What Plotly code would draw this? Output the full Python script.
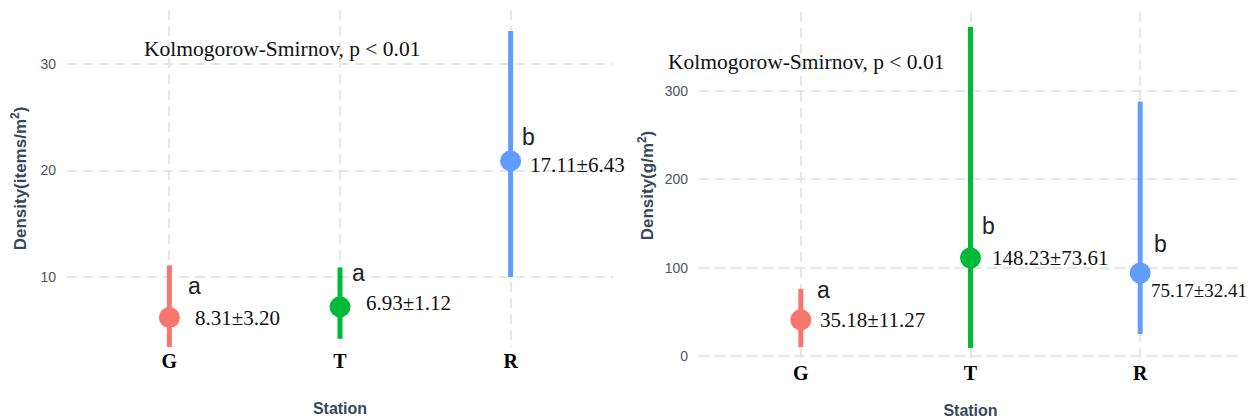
import plotly.graph_objects as go

# ---------------- data ----------------
stations = ["G", "T", "R"]
colors = ["#F8766D", "#00BA38", "#619CFF"]

abund_mean = [6.2, 7.2, 20.9]
abund_low = [3.4, 4.2, 10.0]
abund_high = [11.1, 10.9, 33.1]
abund_text = ["8.31±3.20", "6.93±1.12", "17.11±6.43"]
abund_letters = ["a", "a", "b"]

bio_mean = [41, 111, 94]
bio_low = [10, 9, 25]
bio_high = [76, 373, 288]
bio_text = ["35.18±11.27", "148.23±73.61", "75.17±32.41"]
bio_letters = ["a", "b", "b"]

ks_label = "Kolmogorow-Smirnov, p < 0.01"

# ---------------- styles ----------------
OFF = 8                      # page body margin
W, H = 1255 - OFF, 419 - OFF
GRID = "#E6E6E6"
TICKC = "#4D5566"
TITLEC = "#34495E"
SERIF = "Liberation Serif, Times New Roman, serif"
SANS = "Liberation Sans, Arial, sans-serif"


def px(x):
    return (x - OFF) / W


def py(y):
    return 1 - (y - OFF) / H


fig = go.Figure()


def add_panel(xa, ya, mean, low, high):
    for i, s in enumerate(stations):
        fig.add_trace(go.Scatter(
            x=[s], y=[mean[i]], mode="markers",
            marker=dict(color=colors[i], size=21),
            error_y=dict(type="data", symmetric=False,
                         array=[high[i] - mean[i]],
                         arrayminus=[mean[i] - low[i]],
                         color=colors[i], thickness=5, width=0),
            xaxis=xa, yaxis=ya, showlegend=False, cliponaxis=False))


add_panel("x", "y", abund_mean, abund_low, abund_high)
add_panel("x2", "y2", bio_mean, bio_low, bio_high)

# label offsets (pixels) : (letter dx, letter dy, text dx, text dy, text size)
left_style = [(17, 32, 24, 0, 21), (10, 34, 24, 4, 21), (9, 24, 17, -4, 21)]
right_style = [(14, 30, 17, 0, 21), (10, 32, 19, 0, 21), (12, 29, 9, -17, 19)]


def add_labels(xr, yr, mean, letters, texts, style):
    for i, s in enumerate(stations):
        ldx, ldy, tdx, tdy, tsz = style[i]
        fig.add_annotation(x=s, y=mean[i], xref=xr, yref=yr, text=letters[i],
                           showarrow=False, xanchor="left", yanchor="middle",
                           xshift=ldx, yshift=ldy,
                           font=dict(family=SANS, size=23, color="#222222"))
        fig.add_annotation(x=s, y=mean[i], xref=xr, yref=yr, text=texts[i],
                           showarrow=False, xanchor="left", yanchor="middle",
                           xshift=tdx, yshift=tdy,
                           font=dict(family=SERIF, size=tsz, color="#111111"))


add_labels("x", "y", abund_mean, abund_letters, abund_text, left_style)
add_labels("x2", "y2", bio_mean, bio_letters, bio_text, right_style)

fig.add_annotation(x=px(282), y=py(49), xref="paper", yref="paper", text=ks_label,
                   showarrow=False, xanchor="center", yanchor="middle",
                   font=dict(family=SERIF, size=21.5, color="#111111"))
fig.add_annotation(x=px(806), y=py(62), xref="paper", yref="paper", text=ks_label,
                   showarrow=False, xanchor="center", yanchor="middle",
                   font=dict(family=SERIF, size=21.5, color="#111111"))

xcommon = dict(type="category", range=[-0.6, 2.6], showgrid=True, gridcolor=GRID,
               griddash="10px,6px", gridwidth=1.5, zeroline=False, showline=False,
               ticks="", automargin=False,
               tickfont=dict(family=SERIF, size=20, color="#000000", weight="bold"))
ycommon = dict(showgrid=True, gridcolor=GRID, griddash="10px,6px", gridwidth=1.5,
               zeroline=False, showline=False, ticks="", automargin=False,
               ticklabelstandoff=10,
               tickfont=dict(family=SANS, size=14, color=TICKC))

fig.update_layout(
    width=W, height=H,
    margin=dict(l=0, r=0, t=0, b=0),
    paper_bgcolor="white", plot_bgcolor="white",
    showlegend=False,
    xaxis=dict(xcommon, domain=[px(67), px(613)], anchor="y",
               title=dict(text="<b>Station</b>", standoff=31,
                          font=dict(family=SANS, size=16, color=TITLEC))),
    yaxis=dict(ycommon, domain=[py(347), py(10)], anchor="x",
               range=[3.43, 35.07], tickvals=[10, 20, 30],
               title=dict(text="<b>Density(items/m<sup>2</sup>)</b>", standoff=13,
                          font=dict(family=SANS, size=17, color=TITLEC))),
    xaxis2=dict(xcommon, domain=[px(699), px(1242)], anchor="y2",
                title=dict(text="<b>Station</b>", standoff=21,
                           font=dict(family=SANS, size=16, color=TITLEC))),
    yaxis2=dict(ycommon, domain=[py(359), py(12)], anchor="x2",
                range=[-3.4, 389.6], tickvals=[0, 100, 200, 300],
                title=dict(text="<b>Density(g/m<sup>2</sup>)</b>", standoff=6,
                           font=dict(family=SANS, size=17, color=TITLEC))),
)

fig.write_html("out.html")
